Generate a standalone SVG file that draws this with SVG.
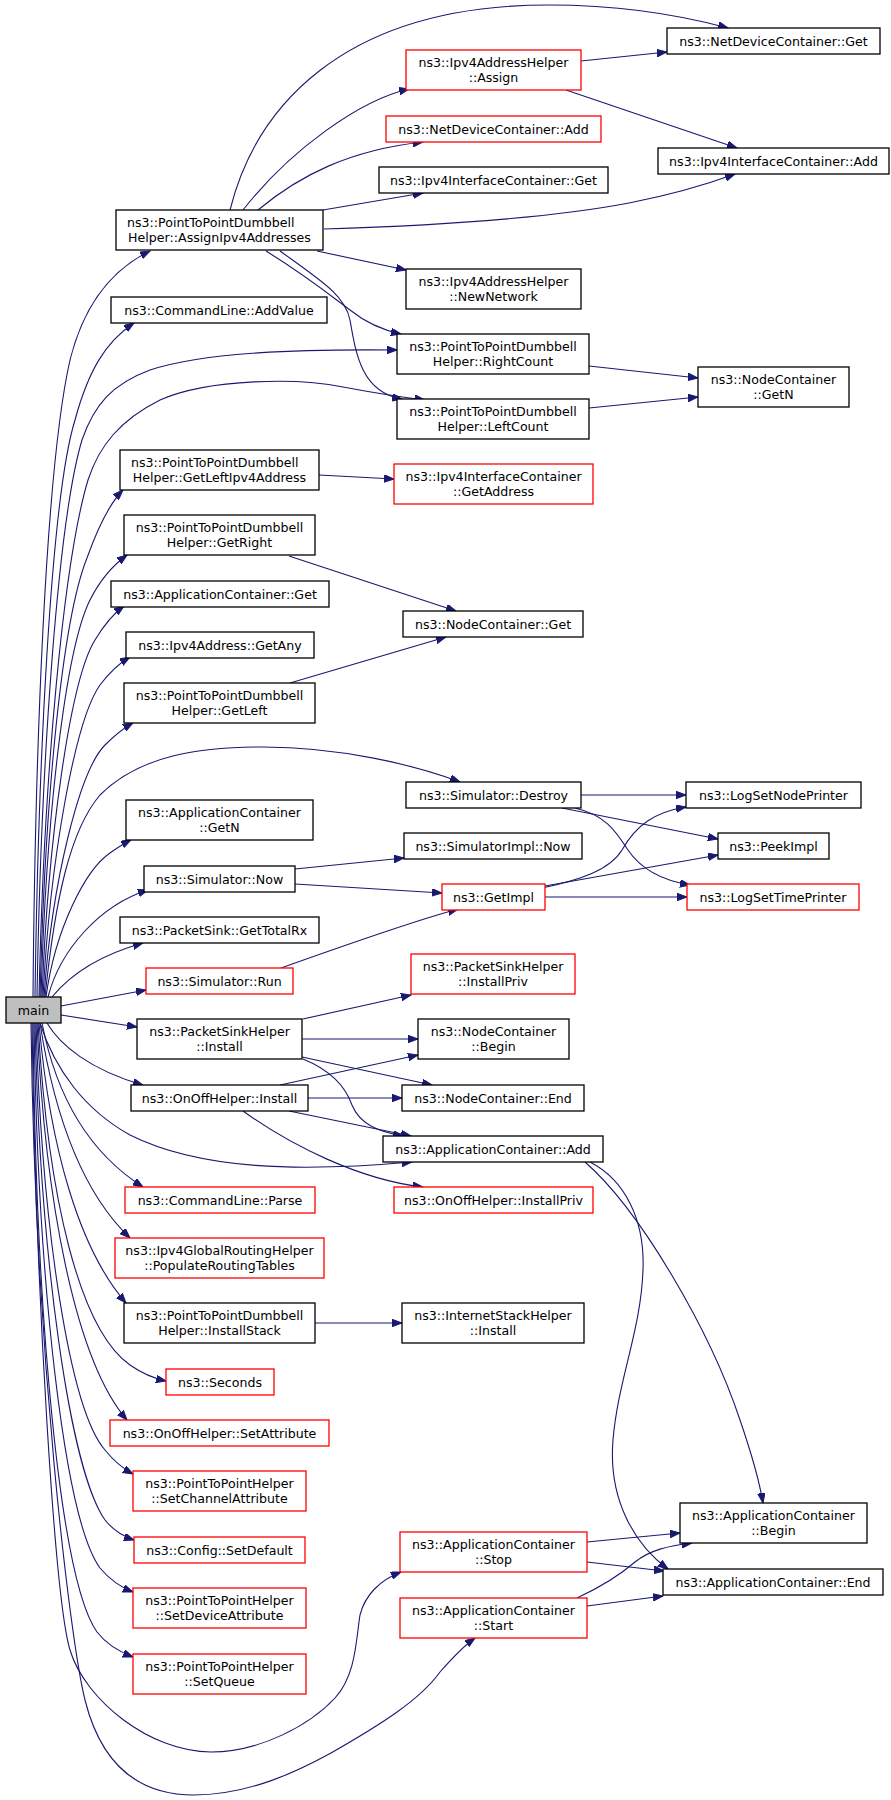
<svg xmlns="http://www.w3.org/2000/svg" width="891" height="1800" viewBox="0 0 891 1800">
<defs>
<style>
.node rect{fill:#fff;stroke:#000;stroke-width:1.3}
.node.r rect{stroke:#ff0000}
.node.m rect{fill:#bfbfbf}
text{font-family:"DejaVu Sans","Liberation Sans",sans-serif;font-size:12.6px;fill:#000;text-anchor:middle}
text.l{text-anchor:start}
.edges path{fill:none;stroke:#191970;stroke-width:1.1;marker-end:url(#ah)}
</style>
<marker id="ah" markerUnits="userSpaceOnUse" markerWidth="11" markerHeight="8" refX="10" refY="3.75" orient="auto">
<path d="M0,0 L10,3.75 L0,7.5 z" fill="#191970" stroke="#191970" stroke-width="1"/>
</marker>
</defs>
<rect x="0" y="0" width="891" height="1800" fill="#fff"/>
<g id="edges" class="edges">
<path d="M33,997 C35,760 45,470 70,360 C85,300 115,268 150,251"/>
<path d="M35,997 C38,780 50,500 75,420 C88,372 105,342 134,323"/>
<path d="M37,997 C41,760 58,520 82,440 C94,405 112,384 150,370 C205,352 300,349 397,350"/>
<path d="M39,997 C44,770 64,560 88,480 C99,446 120,420 160,400 C210,378 300,378 343,387 C375,393 400,397 425,400"/>
<path d="M40,997 C45,800 62,620 87,558 C97,530 108,505 123,490"/>
<path d="M41,997 C46,820 65,650 90,600 C100,580 112,566 127,555"/>
<path d="M42,997 C48,840 70,680 95,640 C104,625 113,614 124,606"/>
<path d="M43,997 C50,860 75,720 100,685 C109,673 118,664 130,657"/>
<path d="M44,997 C52,880 80,770 105,745 C113,737 122,729 133,723"/>
<path d="M45,997 C55,900 70,830 100,795 C140,755 200,747 263,747 C340,747 415,765 460,782"/>
<path d="M46,997 C55,930 85,870 110,853 C117,848 123,844 131,840"/>
<path d="M48,997 C60,950 100,905 148,890"/>
<path d="M52,997 C70,975 100,955 143,943"/>
<path d="M61,1006 L146,990"/>
<path d="M61,1015 L137,1027"/>
<path d="M47,1023 C60,1045 90,1070 143,1085"/>
<path d="M40,1023 C55,1070 85,1110 130,1135 C200,1170 300,1172 412,1162"/>
<path d="M42,1023 C55,1090 85,1150 143,1187"/>
<path d="M40,1023 C55,1120 85,1195 130,1238"/>
<path d="M39,1023 C50,1150 80,1250 126,1303"/>
<path d="M38,1023 C48,1200 80,1330 130,1365 C140,1372 152,1378 166,1381"/>
<path d="M37,1023 C45,1200 75,1360 127,1420"/>
<path d="M36,1023 C42,1230 70,1410 105,1450 C113,1460 122,1468 133,1474"/>
<path d="M35,1023 C40,1260 70,1470 105,1520 C113,1530 122,1536 134,1540"/>
<path d="M34,1023 C38,1290 65,1520 100,1568 C110,1580 120,1587 133,1592"/>
<path d="M33,1023 C36,1320 60,1580 97,1632 C107,1645 120,1652 133,1657"/>
<path d="M32,1023 C36,1300 55,1600 70,1650 C85,1700 150,1752 211,1752 C260,1752 310,1725 335,1698 C356,1675 356,1640 360,1615 C365,1595 380,1580 401,1572"/>
<path d="M31,1023 C35,1350 70,1640 85,1700 C95,1740 120,1795 194,1795 C250,1795 300,1770 331,1753 C380,1725 420,1700 440,1672 C455,1655 465,1645 475,1638"/>
<path d="M230,210 C255,110 340,5 549,5 C620,5 680,15 728,28"/>
<path d="M243,210 C290,150 360,100 409,89"/>
<path d="M258,210 C300,175 350,150 423,142"/>
<path d="M323,210 L423,193"/>
<path d="M324,229 C420,226 540,220 629,203 C670,195 705,185 735,174"/>
<path d="M317,251 L406,270"/>
<path d="M266,251 C305,275 330,295 350,310 C365,322 382,330 401,334"/>
<path d="M280,251 C320,280 345,295 350,320 C356,355 362,392 402,399"/>
<path d="M581,61 L667,52"/>
<path d="M566,90 L737,148"/>
<path d="M589,366 L698,378"/>
<path d="M589,408 L698,397"/>
<path d="M319,475 L394,479"/>
<path d="M289,556 L456,611"/>
<path d="M290,683 L446,637"/>
<path d="M581,795 L686,795"/>
<path d="M562,808 L718,839"/>
<path d="M575,808 C605,815 615,830 628,850 C640,868 660,880 690,885"/>
<path d="M542,888 C580,880 610,870 622,850 C636,825 655,812 686,807"/>
<path d="M545,886 L718,855"/>
<path d="M545,897 L687,897"/>
<path d="M295,869 L404,858"/>
<path d="M295,884 L442,893"/>
<path d="M281,968 C340,947 410,922 458,909"/>
<path d="M303,1019 L411,995"/>
<path d="M302,1039 L418,1039"/>
<path d="M302,1057 L432,1085"/>
<path d="M303,1059 C330,1070 345,1085 352,1105 C360,1125 380,1132 403,1136"/>
<path d="M280,1085 L418,1055"/>
<path d="M308,1098 L402,1098"/>
<path d="M289,1111 L411,1136"/>
<path d="M243,1111 C290,1145 360,1180 423,1187"/>
<path d="M585,1162 C640,1210 710,1330 740,1420 C752,1455 760,1485 763,1503"/>
<path d="M590,1162 C625,1180 645,1220 643,1270 C641,1330 618,1380 613,1440 C608,1500 635,1545 668,1569"/>
<path d="M587,1542 L680,1533"/>
<path d="M587,1562 L664,1571"/>
<path d="M577,1598 C605,1585 620,1575 635,1562 C650,1550 668,1546 692,1543"/>
<path d="M587,1606 L663,1596"/>
<path d="M315,1323 L402,1323"/>
</g>
<g id="n_main" class="node m"><rect x="6" y="997" width="55" height="26"/><text x="33.5" y="1014.5">main</text></g>
<g id="n_ndc_get" class="node"><rect x="667" y="28" width="213" height="26"/><text x="773.5" y="45.5">ns3::NetDeviceContainer::Get</text></g>
<g id="n_assign" class="node r"><rect x="406" y="50" width="175" height="40"/><text x="493.5" y="67">ns3::Ipv4AddressHelper</text><text x="493.5" y="82">::Assign</text></g>
<g id="n_ndc_add" class="node r"><rect x="386" y="116" width="215" height="26"/><text x="493.5" y="133.5">ns3::NetDeviceContainer::Add</text></g>
<g id="n_ic_add" class="node"><rect x="658" y="148" width="231" height="26"/><text x="773.5" y="165.5">ns3::Ipv4InterfaceContainer::Add</text></g>
<g id="n_ic_get" class="node"><rect x="379" y="167" width="229" height="26"/><text x="493.5" y="184.5">ns3::Ipv4InterfaceContainer::Get</text></g>
<g id="n_assignipv4" class="node"><rect x="116" y="210" width="207" height="40"/><text class="l" x="127" y="227">ns3::PointToPointDumbbell</text><text x="219.5" y="242">Helper::AssignIpv4Addresses</text></g>
<g id="n_newnetwork" class="node"><rect x="406" y="269" width="175" height="40"/><text x="493.5" y="286">ns3::Ipv4AddressHelper</text><text x="493.5" y="301">::NewNetwork</text></g>
<g id="n_addvalue" class="node"><rect x="111" y="297" width="216" height="26"/><text x="219" y="314.5">ns3::CommandLine::AddValue</text></g>
<g id="n_rightcount" class="node"><rect x="397" y="334" width="192" height="40"/><text x="493" y="351">ns3::PointToPointDumbbell</text><text x="493" y="366">Helper::RightCount</text></g>
<g id="n_leftcount" class="node"><rect x="397" y="399" width="192" height="40"/><text x="493" y="416">ns3::PointToPointDumbbell</text><text x="493" y="431">Helper::LeftCount</text></g>
<g id="n_nc_getn" class="node"><rect x="698" y="367" width="151" height="40"/><text x="773.5" y="384">ns3::NodeContainer</text><text x="773.5" y="399">::GetN</text></g>
<g id="n_getleftipv4" class="node"><rect x="120" y="450" width="199" height="40"/><text class="l" x="131" y="467">ns3::PointToPointDumbbell</text><text x="219.5" y="482">Helper::GetLeftIpv4Address</text></g>
<g id="n_getaddress" class="node r"><rect x="394" y="464" width="199" height="40"/><text x="493.5" y="481">ns3::Ipv4InterfaceContainer</text><text x="493.5" y="496">::GetAddress</text></g>
<g id="n_getright" class="node"><rect x="124" y="515" width="191" height="40"/><text x="219.5" y="532">ns3::PointToPointDumbbell</text><text x="219.5" y="547">Helper::GetRight</text></g>
<g id="n_ac_get" class="node"><rect x="111" y="581" width="218" height="26"/><text x="220" y="598.5">ns3::ApplicationContainer::Get</text></g>
<g id="n_nc_get" class="node"><rect x="403" y="611" width="180" height="26"/><text x="493" y="628.5">ns3::NodeContainer::Get</text></g>
<g id="n_getany" class="node"><rect x="126" y="632" width="188" height="26"/><text x="220" y="649.5">ns3::Ipv4Address::GetAny</text></g>
<g id="n_getleft" class="node"><rect x="124" y="683" width="191" height="40"/><text x="219.5" y="700">ns3::PointToPointDumbbell</text><text x="219.5" y="715">Helper::GetLeft</text></g>
<g id="n_destroy" class="node"><rect x="406" y="782" width="175" height="26"/><text x="493.5" y="799.5">ns3::Simulator::Destroy</text></g>
<g id="n_lognode" class="node"><rect x="686" y="782" width="175" height="26"/><text x="773.5" y="799.5">ns3::LogSetNodePrinter</text></g>
<g id="n_ac_getn" class="node"><rect x="126" y="800" width="187" height="40"/><text x="219.5" y="817">ns3::ApplicationContainer</text><text x="219.5" y="832">::GetN</text></g>
<g id="n_simimpl_now" class="node"><rect x="404" y="833" width="178" height="26"/><text x="493" y="850.5">ns3::SimulatorImpl::Now</text></g>
<g id="n_peekimpl" class="node"><rect x="718" y="833" width="111" height="26"/><text x="773.5" y="850.5">ns3::PeekImpl</text></g>
<g id="n_sim_now" class="node"><rect x="144" y="866" width="151" height="26"/><text x="219.5" y="883.5">ns3::Simulator::Now</text></g>
<g id="n_getimpl" class="node r"><rect x="442" y="884" width="103" height="26"/><text x="493.5" y="901.5">ns3::GetImpl</text></g>
<g id="n_logtime" class="node r"><rect x="687" y="884" width="172" height="26"/><text x="773" y="901.5">ns3::LogSetTimePrinter</text></g>
<g id="n_totalrx" class="node"><rect x="120" y="917" width="199" height="26"/><text x="219.5" y="934.5">ns3::PacketSink::GetTotalRx</text></g>
<g id="n_run" class="node r"><rect x="146" y="968" width="147" height="26"/><text x="219.5" y="985.5">ns3::Simulator::Run</text></g>
<g id="n_psh_installpriv" class="node r"><rect x="411" y="954" width="164" height="40"/><text x="493" y="971">ns3::PacketSinkHelper</text><text x="493" y="986">::InstallPriv</text></g>
<g id="n_psh_install" class="node"><rect x="137" y="1019" width="165" height="40"/><text x="219.5" y="1036">ns3::PacketSinkHelper</text><text x="219.5" y="1051">::Install</text></g>
<g id="n_nc_begin" class="node"><rect x="418" y="1019" width="151" height="40"/><text x="493.5" y="1036">ns3::NodeContainer</text><text x="493.5" y="1051">::Begin</text></g>
<g id="n_onoff_install" class="node"><rect x="131" y="1085" width="177" height="26"/><text x="219.5" y="1102.5">ns3::OnOffHelper::Install</text></g>
<g id="n_nc_end" class="node"><rect x="402" y="1085" width="182" height="26"/><text x="493" y="1102.5">ns3::NodeContainer::End</text></g>
<g id="n_ac_add" class="node"><rect x="383" y="1136" width="220" height="26"/><text x="493" y="1153.5">ns3::ApplicationContainer::Add</text></g>
<g id="n_parse" class="node r"><rect x="125" y="1187" width="190" height="26"/><text x="220" y="1204.5">ns3::CommandLine::Parse</text></g>
<g id="n_onoff_installpriv" class="node r"><rect x="394" y="1187" width="199" height="26"/><text x="493.5" y="1204.5">ns3::OnOffHelper::InstallPriv</text></g>
<g id="n_populate" class="node r"><rect x="115" y="1238" width="209" height="40"/><text x="219.5" y="1255">ns3::Ipv4GlobalRoutingHelper</text><text x="219.5" y="1270">::PopulateRoutingTables</text></g>
<g id="n_installstack" class="node"><rect x="124" y="1303" width="191" height="40"/><text x="219.5" y="1320">ns3::PointToPointDumbbell</text><text x="219.5" y="1335">Helper::InstallStack</text></g>
<g id="n_ish_install" class="node"><rect x="402" y="1303" width="182" height="40"/><text x="493" y="1320">ns3::InternetStackHelper</text><text x="493" y="1335">::Install</text></g>
<g id="n_seconds" class="node r"><rect x="166" y="1369" width="108" height="26"/><text x="220" y="1386.5">ns3::Seconds</text></g>
<g id="n_setattribute" class="node r"><rect x="110" y="1420" width="219" height="26"/><text x="219.5" y="1437.5">ns3::OnOffHelper::SetAttribute</text></g>
<g id="n_setchannel" class="node r"><rect x="133" y="1471" width="173" height="40"/><text x="219.5" y="1488">ns3::PointToPointHelper</text><text x="219.5" y="1503">::SetChannelAttribute</text></g>
<g id="n_setdefault" class="node r"><rect x="134" y="1537" width="171" height="26"/><text x="219.5" y="1554.5">ns3::Config::SetDefault</text></g>
<g id="n_setdevice" class="node r"><rect x="133" y="1588" width="173" height="40"/><text x="219.5" y="1605">ns3::PointToPointHelper</text><text x="219.5" y="1620">::SetDeviceAttribute</text></g>
<g id="n_setqueue" class="node r"><rect x="133" y="1654" width="173" height="40"/><text x="219.5" y="1671">ns3::PointToPointHelper</text><text x="219.5" y="1686">::SetQueue</text></g>
<g id="n_ac_stop" class="node r"><rect x="400" y="1532" width="187" height="40"/><text x="493.5" y="1549">ns3::ApplicationContainer</text><text x="493.5" y="1564">::Stop</text></g>
<g id="n_ac_start" class="node r"><rect x="400" y="1598" width="187" height="40"/><text x="493.5" y="1615">ns3::ApplicationContainer</text><text x="493.5" y="1630">::Start</text></g>
<g id="n_ac_begin" class="node"><rect x="680" y="1503" width="187" height="40"/><text x="773.5" y="1520">ns3::ApplicationContainer</text><text x="773.5" y="1535">::Begin</text></g>
<g id="n_ac_end" class="node"><rect x="663" y="1569" width="220" height="26"/><text x="773" y="1586.5">ns3::ApplicationContainer::End</text></g>
</svg>
